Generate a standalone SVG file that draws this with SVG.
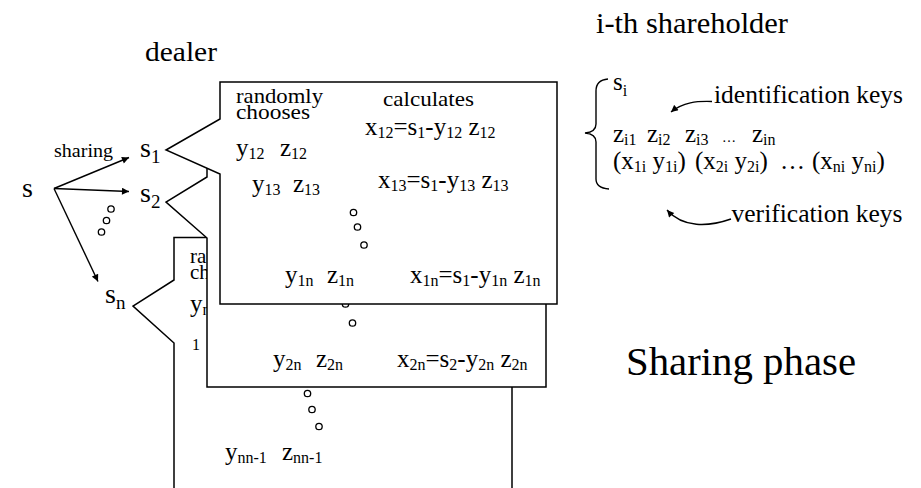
<svg xmlns="http://www.w3.org/2000/svg" width="921" height="488" viewBox="0 0 921 488">
<defs>
<style>
.t{font-family:"Liberation Serif","Times New Roman",serif;fill:#000}
.m{font-size:25px}
.sb{font-size:16px}
.w{font-size:21px}
.box{fill:#fff;stroke:#000;stroke-width:1.5}
.dot{fill:#fff;stroke:#000;stroke-width:1.3}
.ln{fill:none;stroke:#000;stroke-width:1.4}
</style>
<marker id="ah" viewBox="0 0 10 10" refX="10" refY="5" markerUnits="userSpaceOnUse" markerWidth="9" markerHeight="7" orient="auto">
<path d="M0,0 L10,5 L0,10 z" fill="#000"/>
</marker>
</defs>
<rect width="921" height="488" fill="#fff"/>

<g id="labels">
<text class="t" x="145" y="61" font-size="28" textLength="72" lengthAdjust="spacingAndGlyphs">dealer</text>
<text class="t" x="596" y="33" font-size="30" textLength="192" lengthAdjust="spacingAndGlyphs">i-th shareholder</text>
<text class="t" x="626" y="375" font-size="40" textLength="230" lengthAdjust="spacingAndGlyphs">Sharing phase</text>
</g>

<g id="node-s">
<text class="t" x="22" y="197" font-size="28">s</text>
</g>
<g id="node-s1">
<text class="t" x="140" y="157" font-size="28">s<tspan font-size="19" dy="6">1</tspan></text>
</g>
<g id="node-s2">
<text class="t" x="140" y="202" font-size="28">s<tspan font-size="19" dy="6">2</tspan></text>
</g>
<g id="node-sn">
<text class="t" x="105" y="303" font-size="28">s<tspan font-size="19" dy="6">n</tspan></text>
</g>

<g id="connectors">
<text class="t" x="54" y="157" font-size="18" textLength="59" lengthAdjust="spacingAndGlyphs">sharing</text>
<line class="ln" x1="54" y1="188.5" x2="129" y2="157.5" marker-end="url(#ah)"/>
<line class="ln" x1="54" y1="188.5" x2="129" y2="191.5" marker-end="url(#ah)"/>
<line class="ln" x1="54" y1="188.5" x2="98" y2="281.5" marker-end="url(#ah)"/>
<circle class="dot" cx="111" cy="209" r="3.2"/>
<circle class="dot" cx="106.5" cy="220.5" r="3.2"/>
<circle class="dot" cx="101.5" cy="232" r="3.2"/>
</g>

<g id="box-n">
<polygon class="box" points="174,237.5 512,237.5 512,500 174,500 174,343 133,306 174,280"/>
<text class="t w" x="190" y="263">randomly</text>
<text class="t w" x="190" y="279">chooses</text>
<text class="t m" x="190" y="312">y<tspan class="sb" dy="3">n1</tspan></text>
<text class="t" x="192" y="350" font-size="16">1</text>
<circle class="dot" cx="307.5" cy="393.5" r="3.2"/>
<circle class="dot" cx="312" cy="409.5" r="3.2"/>
<circle class="dot" cx="319" cy="426.5" r="3.2"/>
<text class="t m" x="225" y="460">y<tspan class="sb" dy="3">nn-1</tspan><tspan x="282" dy="-3">z</tspan><tspan class="sb" dy="3">nn-1</tspan></text>
</g>

<g id="box-2">
<polygon class="box" points="207,160 546,160 546,387 207,387 207,238 166,202 207,177"/>
<circle class="dot" cx="345.5" cy="304" r="3.2"/>
<circle class="dot" cx="352.5" cy="323" r="3.2"/>
<text class="t m" x="273" y="367">y<tspan class="sb" dy="3">2n</tspan><tspan x="316" dy="-3">z</tspan><tspan class="sb" dy="3">2n</tspan></text>
<text class="t m" x="397" y="367">x<tspan class="sb" dy="3">2n</tspan><tspan dy="-3">=s</tspan><tspan class="sb" dy="3">2</tspan><tspan dy="-3">-y</tspan><tspan class="sb" dy="3">2n</tspan><tspan dy="-3"> z</tspan><tspan class="sb" dy="3">2n</tspan></text>
</g>

<g id="box-1">
<polygon class="box" points="220,82 557,82 557,304 220,304 220,174 166,150 220,119"/>
<text class="t w" x="236" y="103" textLength="87" lengthAdjust="spacingAndGlyphs">randomly</text>
<text class="t w" x="236" y="119" textLength="74" lengthAdjust="spacingAndGlyphs">chooses</text>
<text class="t w" x="383" y="106" textLength="91" lengthAdjust="spacingAndGlyphs">calculates</text>
<text class="t m" x="236" y="156">y<tspan class="sb" dy="3">12</tspan><tspan x="280" dy="-3">z</tspan><tspan class="sb" dy="3">12</tspan></text>
<text class="t m" x="365" y="135">x<tspan class="sb" dy="3">12</tspan><tspan dy="-3">=s</tspan><tspan class="sb" dy="3">1</tspan><tspan dy="-3">-y</tspan><tspan class="sb" dy="3">12</tspan><tspan dy="-3"> z</tspan><tspan class="sb" dy="3">12</tspan></text>
<text class="t m" x="252" y="192">y<tspan class="sb" dy="3">13</tspan><tspan x="293" dy="-3">z</tspan><tspan class="sb" dy="3">13</tspan></text>
<text class="t m" x="378" y="188">x<tspan class="sb" dy="3">13</tspan><tspan dy="-3">=s</tspan><tspan class="sb" dy="3">1</tspan><tspan dy="-3">-y</tspan><tspan class="sb" dy="3">13</tspan><tspan dy="-3"> z</tspan><tspan class="sb" dy="3">13</tspan></text>
<circle class="dot" cx="353.5" cy="212.5" r="3.2"/>
<circle class="dot" cx="357.5" cy="227" r="3.2"/>
<circle class="dot" cx="364" cy="245" r="3.2"/>
<text class="t m" x="285" y="283">y<tspan class="sb" dy="3">1n</tspan><tspan x="327" dy="-3">z</tspan><tspan class="sb" dy="3">1n</tspan></text>
<text class="t m" x="410" y="283">x<tspan class="sb" dy="3">1n</tspan><tspan dy="-3">=s</tspan><tspan class="sb" dy="3">1</tspan><tspan dy="-3">-y</tspan><tspan class="sb" dy="3">1n</tspan><tspan dy="-3"> z</tspan><tspan class="sb" dy="3">1n</tspan></text>
</g>

<g id="shareholder">
<path class="ln" d="M608,79 Q596,80 596,91 L596,124 Q596,132 585,133 Q596,134 596,142 L596,179 Q596,188 609,189"/>
<text class="t m" x="613" y="90">s<tspan class="sb" dy="6">i</tspan></text>
<text class="t" x="714" y="103" font-size="25.5" textLength="189" lengthAdjust="spacingAndGlyphs">identification keys</text>
<path class="ln" d="M712,101.5 C697,101 683,102 671,112" marker-end="url(#ah)"/>
<text class="t m" x="613" y="141.5">z<tspan class="sb" dy="3">i1</tspan><tspan x="647" dy="-3">z</tspan><tspan class="sb" dy="3">i2</tspan><tspan x="685" dy="-3">z</tspan><tspan class="sb" dy="3">i3</tspan><tspan x="722" font-size="14" dy="-3">…</tspan><tspan x="752">z</tspan><tspan class="sb" dy="3">in</tspan></text>
<text class="t m" x="613" y="169">(x<tspan class="sb" dy="3">1i</tspan><tspan dy="-3"> y</tspan><tspan class="sb" dy="3">1i</tspan><tspan dy="-3">)</tspan><tspan x="695">(x</tspan><tspan class="sb" dy="3">2i</tspan><tspan dy="-3"> y</tspan><tspan class="sb" dy="3">2i</tspan><tspan dy="-3">)</tspan><tspan x="780">…</tspan><tspan x="812">(x</tspan><tspan class="sb" dy="3">ni</tspan><tspan dy="-3"> y</tspan><tspan class="sb" dy="3">ni</tspan><tspan dy="-3">)</tspan></text>
<text class="t" x="731.5" y="221.5" font-size="25.5" textLength="171" lengthAdjust="spacingAndGlyphs">verification keys</text>
<path class="ln" d="M731,219 C708,227 683,228 667,210" marker-end="url(#ah)"/>
</g>
</svg>
